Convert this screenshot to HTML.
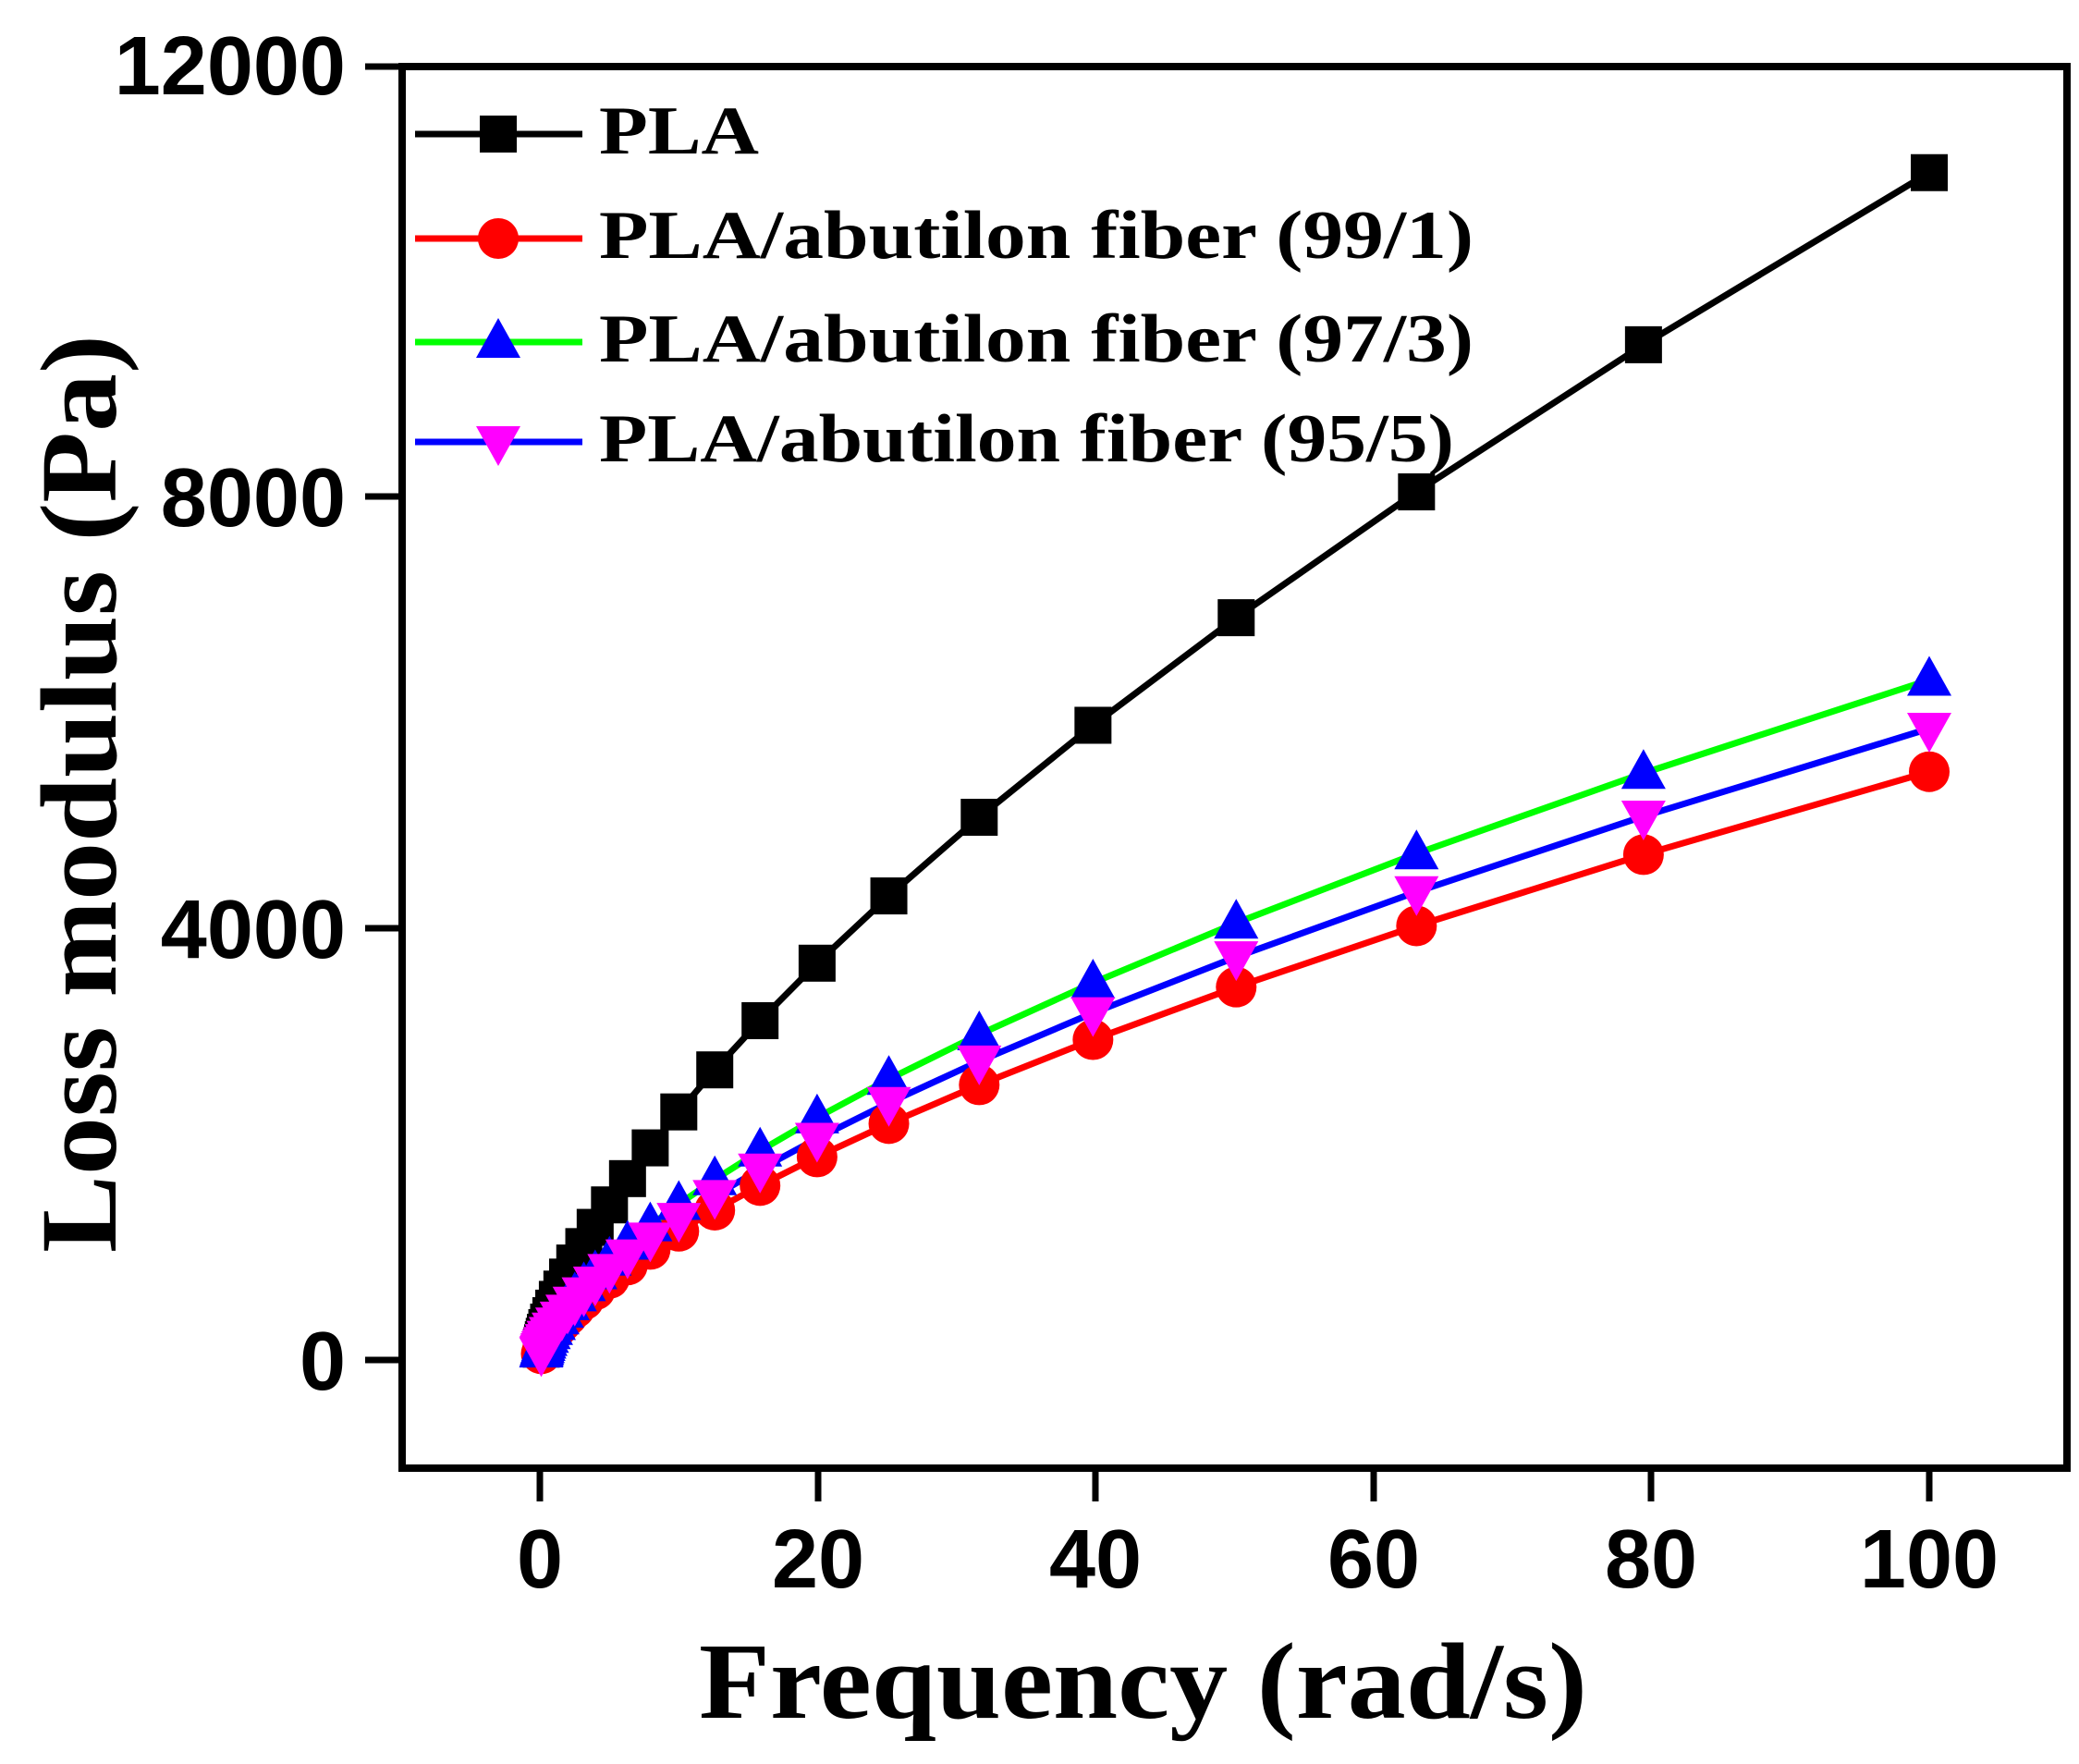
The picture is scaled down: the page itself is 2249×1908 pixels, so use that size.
<!DOCTYPE html>
<html><head><meta charset="utf-8"><style>html,body{margin:0;padding:0;background:#fff}svg{display:block}</style></head>
<body>
<svg id="s" width="2249" height="1908" xmlns="http://www.w3.org/2000/svg">
<rect x="0" y="0" width="2249" height="1908" fill="#fff"/>
<g id="data"></g>
<rect x="435" y="72" width="1801" height="1516" fill="none" stroke="#000" stroke-width="8"/>
<g stroke="#000" stroke-width="7">
<line x1="395" y1="1471" x2="435" y2="1471"/>
<line x1="395" y1="1004" x2="435" y2="1004"/>
<line x1="395" y1="537" x2="435" y2="537"/>
<line x1="395" y1="72" x2="435" y2="72"/>
<line x1="584" y1="1588" x2="584" y2="1624"/>
<line x1="885" y1="1588" x2="885" y2="1624"/>
<line x1="1185" y1="1588" x2="1185" y2="1624"/>
<line x1="1486" y1="1588" x2="1486" y2="1624"/>
<line x1="1786" y1="1588" x2="1786" y2="1624"/>
<line x1="2087" y1="1588" x2="2087" y2="1624"/>
</g>
<g font-family="Liberation Sans, sans-serif" font-weight="bold" font-size="90" fill="#000">
<text x="374" y="1503" text-anchor="end">0</text>
<text x="374" y="1036" text-anchor="end">4000</text>
<text x="374" y="569" text-anchor="end">8000</text>
<text x="374" y="102" text-anchor="end">12000</text>
<text x="584" y="1717" text-anchor="middle">0</text>
<text x="885" y="1717" text-anchor="middle">20</text>
<text x="1185" y="1717" text-anchor="middle">40</text>
<text x="1486" y="1717" text-anchor="middle">60</text>
<text x="1786" y="1717" text-anchor="middle">80</text>
<text x="2087" y="1717" text-anchor="middle">100</text>
</g>
<g font-family="Liberation Serif, serif" font-weight="bold" fill="#000">
<text x="756" y="1858" font-size="118" textLength="961" lengthAdjust="spacingAndGlyphs">Frequency (rad/s)</text>
<text transform="translate(125,1355) rotate(-90)" font-size="118" textLength="993" lengthAdjust="spacingAndGlyphs">Loss modulus (Pa)</text>
<text x="648" y="166" font-size="74" textLength="173" lengthAdjust="spacingAndGlyphs">PLA</text>
<text x="648" y="279" font-size="74" textLength="946" lengthAdjust="spacingAndGlyphs">PLA/abutilon fiber (99/1)</text>
<text x="648" y="391" font-size="74" textLength="946" lengthAdjust="spacingAndGlyphs">PLA/abutilon fiber (97/3)</text>
<text x="648" y="499" font-size="74" textLength="925" lengthAdjust="spacingAndGlyphs">PLA/abutilon fiber (95/5)</text>
</g>
<g id="leg"></g>
<script>
var NS="http://www.w3.org/2000/svg";
function X(f){return 584+f*15.03}
function Y(v){return 1471-v*0.11675}
var freqs=[];for(var i=0;i<=30;i++){freqs.push(100*Math.pow(10,-i/10));}
var series=[
 {a:11000,p:0.68,line:"#000",fill:"#000",m:"sq"},
 {a:5450,p:0.66,line:"#f00",fill:"#f00",m:"ci"},
 {a:6300,p:0.64,line:"#0f0",fill:"#00f",m:"tu"},
 {a:5850,p:0.65,line:"#00f",fill:"#f0f",m:"td"}];
var g=document.getElementById("data");
function el(n,a,p){var e=document.createElementNS(NS,n);for(var k in a)e.setAttribute(k,a[k]);p.appendChild(e);return e;}
function marker(m,x,y,c,p){
 if(m=="sq")el("rect",{x:x-20,y:y-20,width:40,height:40,fill:c},p);
 else if(m=="ci")el("circle",{cx:x,cy:y,r:22,fill:c},p);
 else if(m=="tu")el("polygon",{points:(x)+","+(y-26)+" "+(x-24)+","+(y+17)+" "+(x+24)+","+(y+17),fill:c},p);
 else el("polygon",{points:(x)+","+(y+26)+" "+(x-24)+","+(y-17)+" "+(x+24)+","+(y-17),fill:c},p);
}
series.forEach(function(s){
 var pts=freqs.map(function(f){return [X(f),Y(s.a*Math.pow(f/100,s.p))];});
 el("polyline",{points:pts.map(function(q){return q.join(",")}).join(" "),fill:"none",stroke:s.line,"stroke-width":7},g);
 s.pts=pts;
});
series.forEach(function(s){s.pts.forEach(function(q){marker(s.m,q[0],q[1],s.fill,g);});});
var lg=document.getElementById("leg");var ly=[145,258,370,478];
series.forEach(function(s,i){
 el("line",{x1:449,y1:ly[i],x2:630,y2:ly[i],stroke:s.line,"stroke-width":7},lg);
 marker(s.m,539,ly[i],s.fill,lg);
});
</script>
</svg>
</body></html>
